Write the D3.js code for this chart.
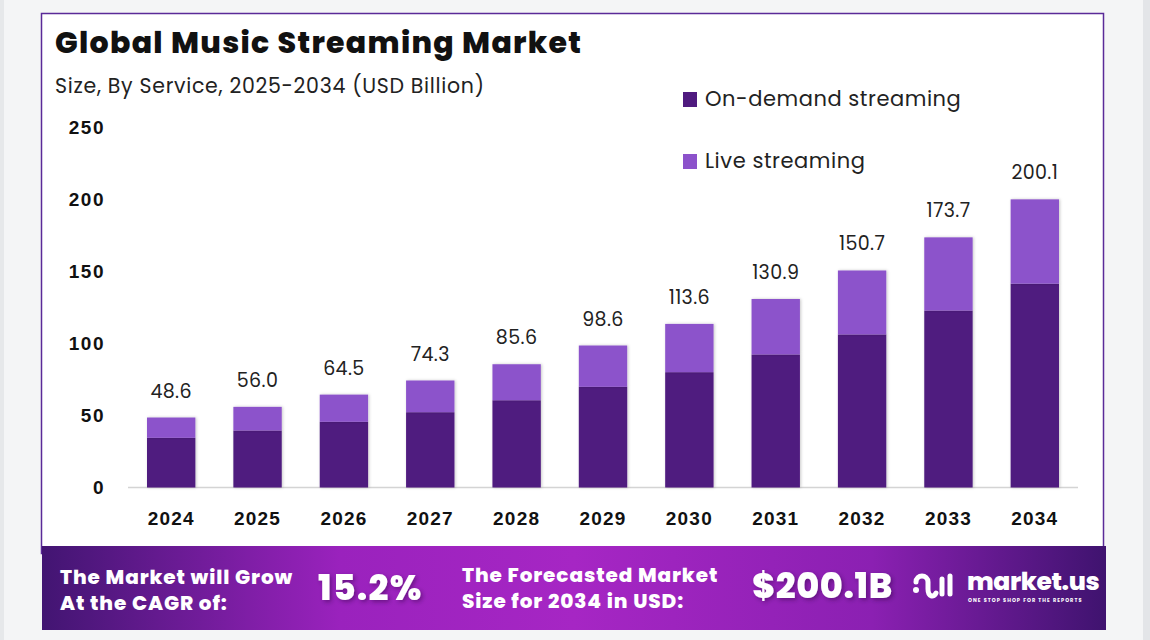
<!DOCTYPE html>
<html>
<head>
<meta charset="utf-8">
<script src="https://cdn.jsdelivr.net/npm/d3@7"></script>
<style>
  body { margin: 0; background: #f4f5f6; }
  svg { display: block; font-family: "Poppins", Inter, "Noto Sans", sans-serif; }
</style>
</head>
<body>
<div id="chart"></div>
<script>
// data
const years = ["2024", "2025", "2026", "2027", "2028", "2029", "2030", "2031", "2032", "2033", "2034"];
const totals = [48.6, 56.0, 64.5, 74.3, 85.6, 98.6, 113.6, 130.9, 150.7, 173.7, 200.1];
const onDemand = [34.5, 39.6, 45.6, 52.3, 60.6, 69.9, 80.1, 92.4, 106.3, 122.9, 141.5];
const yTicks = [0, 50, 100, 150, 200, 250];
const seriesNames = ["On-demand streaming", "Live streaming"];
const seriesColors = ["#4f1a7f", "#8c52cb"];

const W = 1150, H = 640;
const svg = d3.select("#chart").append("svg")
  .attr("width", W).attr("height", H);

const defs = svg.append("defs");
const grad = defs.append("linearGradient").attr("id", "banner").attr("x1", 0).attr("x2", 1);
[[0, "#421572"], [0.28, "#9a22bd"], [0.5, "#a626c4"], [0.78, "#8b20b2"], [1, "#3f136f"]]
  .forEach(([o, c]) => grad.append("stop").attr("offset", o).attr("stop-color", c));
defs.append("filter").attr("id", "shadow").attr("x", "-10%").attr("width", "130%")
  .append("feDropShadow").attr("dx", 1).attr("dy", 0).attr("stdDeviation", 1.5)
  .attr("flood-color", "#000").attr("flood-opacity", 0.22);
defs.append("filter").attr("id", "tshadow")
  .append("feDropShadow").attr("dx", 2).attr("dy", 2).attr("stdDeviation", 2)
  .attr("flood-color", "#2a0a40").attr("flood-opacity", 0.45);

// page side strips and card
svg.append("rect").attr("x", 0).attr("y", 0).attr("width", 4).attr("height", H).attr("fill", "#e6e8ea");
svg.append("rect").attr("x", 1143).attr("y", 0).attr("width", 7).attr("height", H).attr("fill", "#e3e5e8");
svg.append("rect").attr("x", 41.5).attr("y", 13.5).attr("width", 1062).attr("height", 540)
  .attr("fill", "#fff").attr("stroke", "#5a2a98").attr("stroke-width", 1.5);

// titles
svg.append("text").attr("x", 55).attr("y", 53)
  .attr("font-size", 30).attr("font-weight", 800).attr("fill", "#111")
  .attr("letter-spacing", 1.3)
  .text("Global Music Streaming Market");
svg.append("text").attr("x", 55).attr("y", 93)
  .attr("font-size", 20.5).attr("fill", "#222").attr("letter-spacing", 0.7)
  .text("Size, By Service, 2025-2034 (USD Billion)");

// scales
const x = d3.scaleBand().domain(years).range([128, 1078]).paddingInner(0.44).paddingOuter(0.22);
const y = d3.scaleLinear().domain([0, 250]).range([487.5, 127.5]);

// y axis
const yAxis = svg.append("g").attr("transform", "translate(105,0)")
  .call(d3.axisLeft(y).tickValues(yTicks).tickSize(0).tickPadding(0));
yAxis.select(".domain").remove();
yAxis.selectAll("text").attr("font-size", 19).attr("font-weight", 800)
  .attr("fill", "#111").attr("font-family", null).attr("letter-spacing", 1.5);

// baseline
svg.append("line").attr("x1", 128).attr("x2", 1078).attr("y1", y(0)).attr("y2", y(0))
  .attr("stroke", "#d4d4d4").attr("stroke-width", 1.5);

// x axis
const xAxis = svg.append("g").attr("transform", `translate(0,${y(0)})`)
  .call(d3.axisBottom(x).tickSize(0).tickPadding(24));
xAxis.select(".domain").remove();
xAxis.selectAll("text").attr("font-size", 19).attr("font-weight", 800)
  .attr("fill", "#111").attr("font-family", null).attr("letter-spacing", 1.2);

// stacked bars
const rows = years.map((yr, i) => ({ year: yr, onDemand: onDemand[i], live: +(totals[i] - onDemand[i]).toFixed(1) }));
const stack = d3.stack().keys(["onDemand", "live"])(rows);
svg.append("g").selectAll("g").data(stack).join("g")
  .attr("fill", (d, i) => seriesColors[i])
  .selectAll("rect").data(d => d).join("rect")
  .attr("x", d => x(d.data.year))
  .attr("y", d => y(d[1]))
  .attr("width", x.bandwidth())
  .attr("height", d => y(d[0]) - y(d[1]))
  .attr("filter", "url(#shadow)");

// totals
svg.append("g").selectAll("text").data(years).join("text")
  .attr("x", d => x(d) + x.bandwidth() / 2)
  .attr("y", (d, i) => y(totals[i]) - 20)
  .attr("text-anchor", "middle").attr("font-size", 19).attr("fill", "#222")
  .attr("letter-spacing", 0.4)
  .text((d, i) => totals[i].toFixed(1));

// legend
const legend = svg.append("g").selectAll("g").data(seriesNames).join("g")
  .attr("transform", (d, i) => `translate(683,${92 + i * 62})`);
legend.append("rect").attr("width", 14).attr("height", 15).attr("fill", (d, i) => seriesColors[i]);
legend.append("text").attr("x", 22).attr("y", 14).attr("font-size", 21).attr("fill", "#222")
  .attr("letter-spacing", 0.55).text(d => d);

// bottom banner
svg.append("rect").attr("x", 42).attr("y", 546).attr("width", 1064).attr("height", 84).attr("fill", "url(#banner)");
const bt = svg.append("g").attr("fill", "#fff").attr("font-weight", 800);
bt.append("text").attr("x", 60).attr("y", 584).attr("font-size", 20).attr("letter-spacing", 0.9).text("The Market will Grow");
bt.append("text").attr("x", 60).attr("y", 610).attr("font-size", 20).attr("letter-spacing", 0.9).text("At the CAGR of:");
bt.append("text").attr("x", 318).attr("y", 600).attr("font-size", 35).attr("letter-spacing", 1.2)
  .attr("filter", "url(#tshadow)").text("15.2%");
bt.append("text").attr("x", 462).attr("y", 582).attr("font-size", 20).attr("letter-spacing", 0.9).text("The Forecasted Market");
bt.append("text").attr("x", 462).attr("y", 608).attr("font-size", 20).attr("letter-spacing", 0.9).text("Size for 2034 in USD:");
bt.append("text").attr("x", 752).attr("y", 598).attr("font-size", 35).attr("letter-spacing", 0.6)
  .attr("filter", "url(#tshadow)").text("$200.1B");

// market.us logo
const logo = svg.append("g").attr("transform", "translate(913,574)")
  .attr("fill", "none").attr("stroke", "#fff").attr("stroke-width", 5).attr("stroke-linecap", "round");
logo.append("circle").attr("cx", 3).attr("cy", 16).attr("r", 3).attr("fill", "#fff").attr("stroke", "none");
logo.append("path").attr("d", "M3,8 C3,0 15,0 15,8 L15,15 C15,23 21,24 23,19");
logo.append("line").attr("x1", 29).attr("y1", 5).attr("x2", 29).attr("y2", 20);
logo.append("line").attr("x1", 37).attr("y1", 2).attr("x2", 37).attr("y2", 20);
svg.append("text").attr("x", 967).attr("y", 590).attr("font-size", 25).attr("font-weight", 800)
  .attr("fill", "#fff").attr("letter-spacing", -0.4).text("market.us");
svg.append("text").attr("x", 968).attr("y", 602).attr("font-size", 5).attr("font-weight", 700)
  .attr("fill", "#fff").attr("letter-spacing", 1.05).text("ONE STOP SHOP FOR THE REPORTS");
</script>
</body>
</html>
